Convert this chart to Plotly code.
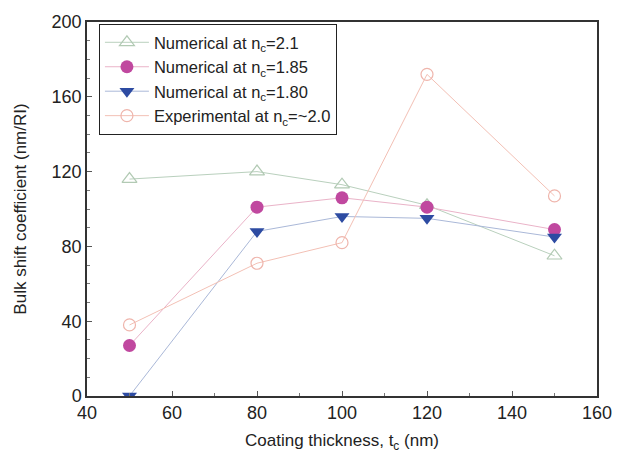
import plotly.graph_objects as go

x = [50, 80, 100, 120, 150]
n21 = [116, 120, 113, 102, 75]
n185 = [27, 101, 106, 101, 89]
n180 = [0, 88, 96, 95, 85]
exp20 = [38, 71, 82, 172, 107]

names = ["Numerical at n<sub>c</sub>=2.1", "Numerical at n<sub>c</sub>=1.85",
         "Numerical at n<sub>c</sub>=1.80", "Experimental at n<sub>c</sub>=~2.0"]

fig = go.Figure()
fig.add_trace(go.Scatter(x=x, y=n21, name=names[0], mode="lines+markers",
    line=dict(color="#b9d0bd", width=1),
    marker=dict(symbol="triangle-up-open", size=13, color="#b2cab4", line=dict(width=1.2))))
fig.add_trace(go.Scatter(x=x, y=n185, name=names[1], mode="lines+markers",
    line=dict(color="#eab3c8", width=1),
    marker=dict(symbol="circle", size=13, color="#c0489f")))
fig.add_trace(go.Scatter(x=x, y=n180, name=names[2], mode="lines+markers",
    line=dict(color="#aab8d8", width=1),
    marker=dict(symbol="triangle-down", size=13, color="#2d4ba2")))
fig.add_trace(go.Scatter(x=x, y=exp20, name=names[3], mode="lines+markers",
    line=dict(color="#f3c0b5", width=1),
    marker=dict(symbol="circle-open", size=12, color="#efb5ac", line=dict(width=1.2))))

axis_common = dict(showgrid=False, zeroline=False, showline=True, linecolor="#333",
                   linewidth=1.5, mirror=True, ticks="inside", ticklen=5,
                   tickcolor="#555", tickfont=dict(size=18, color="#222"))
fig.update_xaxes(range=[40, 160], dtick=20, minor=dict(dtick=10, ticks="inside", ticklen=3, tickcolor="#777"),
                 title=dict(text="Coating thickness, t<sub>c</sub> (nm)", font=dict(size=17, color="#222"), standoff=12),
                 **axis_common)
fig.update_yaxes(range=[0, 200], dtick=40, minor=dict(dtick=10, ticks="inside", ticklen=3, tickcolor="#777"),
                 title=dict(text="Bulk shift coefficient (nm/RI)", font=dict(size=17, color="#222"), standoff=21),
                 **axis_common)
fig.update_layout(
    width=624, height=460, margin=dict(l=87, r=20, t=16, b=64),
    paper_bgcolor="white", plot_bgcolor="white",
    font=dict(family="Liberation Sans, Arial, sans-serif", color="#222"),
    legend=dict(x=0.023, y=0.995, xanchor="left", yanchor="top",
                bordercolor="#222", borderwidth=1.2, bgcolor="white",
                font=dict(size=16.5), tracegroupgap=0, itemwidth=44),
)
fig.write_html("out.html")
